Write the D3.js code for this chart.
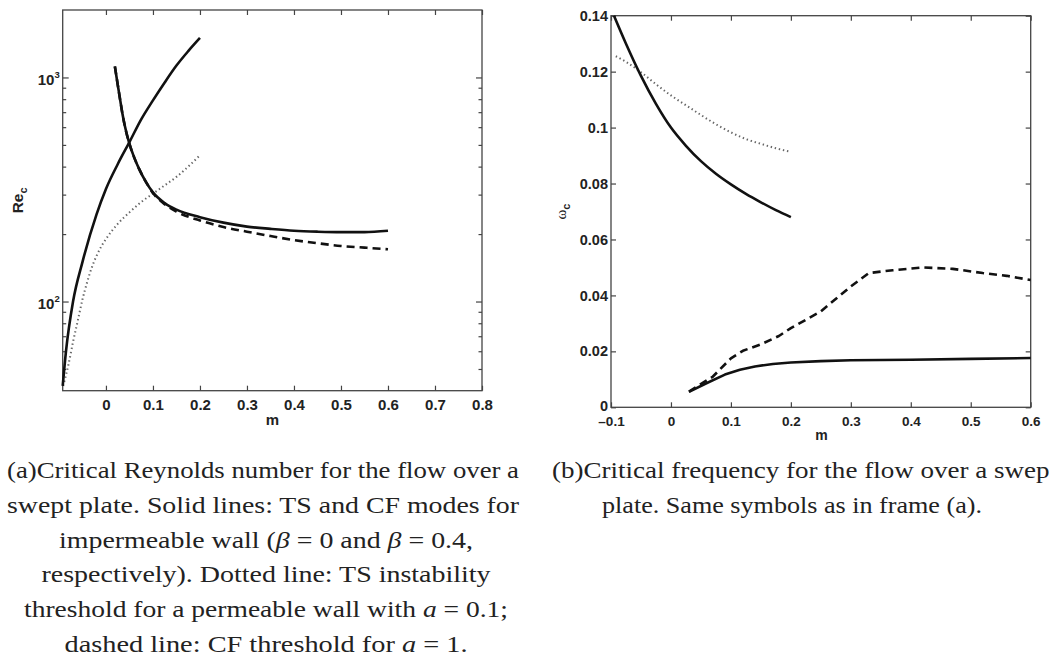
<!DOCTYPE html>
<html><head><meta charset="utf-8">
<script src="https://cdn.jsdelivr.net/npm/d3@7/dist/d3.min.js"></script>
<style>
html,body{margin:0;padding:0;background:#fff;}
svg{display:block;}
.tick text{font-family:"Liberation Sans",Arial,sans-serif;font-weight:bold;fill:#222;}
</style></head>
<body>
<svg id="chart" width="1049" height="664"></svg>
<script>
// ---------- DATA ----------
// Panel (a): critical Reynolds number vs m (log scale)
const tsSolidM   = [-0.092,-0.085,-0.07,-0.05,-0.02,0,0.025,0.05,0.075,0.1,0.125,0.15,0.175,0.2];
const tsSolidRe  = [42,60,100,150,245,318,410,515,650,790,950,1130,1310,1500];
const cfSolidM   = [0.019,0.025,0.03,0.035,0.04,0.05,0.06,0.07,0.085,0.1,0.125,0.15,0.2,0.25,0.3,0.35,0.4,0.45,0.5,0.55,0.6];
const cfSolidRe  = [1120,930,800,690,610,505,440,393,342,307,275,257,238,225,216,211,207,205,204,204,207];
const tsDotM     = [-0.091,-0.08,-0.07,-0.06,-0.05,-0.04,-0.03,-0.02,-0.01,0,0.025,0.05,0.075,0.1,0.125,0.15,0.175,0.2];
const tsDotRe    = [42,52,66,82,102,122,142,160,176,190,222,250,278,303,330,360,400,450];
const cfDashM    = [0.019,0.025,0.03,0.035,0.04,0.05,0.06,0.07,0.085,0.1,0.12,0.15,0.2,0.25,0.3,0.35,0.4,0.45,0.5,0.55,0.6];
const cfDashRe   = [1120,930,800,690,610,505,440,393,342,305,277,252,230,215,205,196,188,182,177,174,171];

// Panel (b): critical frequency vs m
const tsSolidWM  = [-0.095,-0.075,-0.05,-0.025,0,0.025,0.05,0.075,0.1,0.125,0.15,0.175,0.2];
const tsSolidW   = [0.140,0.130,0.1185,0.1085,0.1000,0.0935,0.0880,0.0835,0.0797,0.0763,0.0733,0.0705,0.068];
const tsDotWM    = [-0.092,-0.075,-0.05,-0.025,0,0.025,0.05,0.075,0.1,0.125,0.15,0.175,0.2];
const tsDotW     = [0.1255,0.1235,0.1198,0.1155,0.1115,0.108,0.1045,0.1012,0.0983,0.0959,0.0942,0.0926,0.0913];
const cfSolidWM  = [0.03,0.06,0.09,0.115,0.14,0.17,0.2,0.25,0.3,0.4,0.5,0.6];
const cfSolidW   = [0.0055,0.0087,0.0117,0.0134,0.0146,0.0155,0.016,0.0165,0.0168,0.0170,0.0173,0.0176];
const cfDashWM   = [0.03,0.07,0.1,0.12,0.15,0.18,0.2,0.25,0.3,0.33,0.37,0.42,0.47,0.52,0.56,0.6];
const cfDashW    = [0.0056,0.011,0.0175,0.0202,0.0225,0.0255,0.0283,0.0343,0.0432,0.048,0.049,0.050,0.0495,0.048,0.047,0.0455];

// Tick values
const aXTicks = [0,0.1,0.2,0.3,0.4,0.5,0.6,0.7,0.8];
const aYMajor = [100,1000];
const aYMinor = [50,60,70,80,90,200,300,400,500,600,700,800,900];
const bXTicks = [-0.1,0,0.1,0.2,0.3,0.4,0.5,0.6];
const bYTicks = [0,0.02,0.04,0.06,0.08,0.1,0.12,0.14];

// Captions
const capA = [
  "(a)Critical Reynolds number for the flow over a",
  "swept plate. Solid lines: TS and CF modes for",
  [["impermeable wall (",""],["β","i"],[" = 0 and ",""],["β","i"],[" = 0.4,",""]],
  "respectively). Dotted line: TS instability",
  [["threshold for a permeable wall with ",""],["a","i"],[" = 0.1;",""]],
  [["dashed line: CF threshold for ",""],["a","i"],[" = 1.",""]]
];
const capB = [
  "(b)Critical frequency for the flow over a swept",
  "plate. Same symbols as in frame (a)."
];

// ---------- DRAW ----------
const svg = d3.select("#chart");
const zip = (xs, ys) => xs.map((x,i)=>[x,ys[i]]);

const A = {x0:62.7, x1:482, y0:10, y1:390.7};
const B = {x0:611, x1:1030.7, y0:15.7, y1:407.3};

const xa = d3.scaleLinear().domain([-0.092,0.8]).range([A.x0,A.x1]);
const ya = d3.scaleLog().domain([40,2000]).range([A.y1,A.y0]);
const xb = d3.scaleLinear().domain([-0.1,0.6]).range([B.x0,B.x1]);
const yb = d3.scaleLinear().domain([0,0.14]).range([B.y1,B.y0]);

function styleAxis(g, fs){
  g.select(".domain").remove();
  g.selectAll(".tick line").attr("stroke","#444").attr("stroke-width",1.2);
  g.selectAll(".tick text").attr("font-size",fs);
}

// Panel A axes
const ga = svg.append("g");
ga.append("g").attr("transform",`translate(0,${A.y1})`)
  .call(d3.axisBottom(xa).tickValues(aXTicks).tickSizeInner(-5).tickSizeOuter(0).tickPadding(9)
        .tickFormat(d=> d===0?"0":d3.format(".1f")(d)))
  .call(g=>styleAxis(g,15));
ga.append("g").attr("transform",`translate(0,${A.y0})`)
  .call(d3.axisTop(xa).tickValues(aXTicks).tickSizeInner(-5).tickSizeOuter(0).tickFormat(""))
  .call(g=>styleAxis(g,15));
ga.append("g").attr("transform",`translate(${A.x0},0)`)
  .call(d3.axisLeft(ya).tickValues(aYMajor).tickSizeInner(-6).tickSizeOuter(0).tickPadding(3).tickFormat(()=>"10"))
  .call(g=>styleAxis(g,15))
  .call(g=>g.selectAll(".tick text").attr("dy","0.45em")
     .append("tspan").attr("font-size",9.5).attr("dy","-0.75em").text(d=>Math.round(Math.log10(d))));
ga.append("g").attr("transform",`translate(${A.x0},0)`)
  .call(d3.axisLeft(ya).tickValues(aYMinor).tickSizeInner(-3.5).tickSizeOuter(0).tickFormat(""))
  .call(g=>styleAxis(g,15));
ga.append("g").attr("transform",`translate(${A.x1},0)`)
  .call(d3.axisRight(ya).tickValues(aYMajor).tickSizeInner(-6).tickSizeOuter(0).tickFormat(""))
  .call(g=>styleAxis(g,15));
ga.append("g").attr("transform",`translate(${A.x1},0)`)
  .call(d3.axisRight(ya).tickValues(aYMinor).tickSizeInner(-3.5).tickSizeOuter(0).tickFormat(""))
  .call(g=>styleAxis(g,15));
ga.append("rect").attr("x",A.x0).attr("y",A.y0).attr("width",A.x1-A.x0).attr("height",A.y1-A.y0)
  .attr("fill","none").attr("stroke","#444").attr("stroke-width",1.3);
ga.append("text").attr("x",(A.x0+A.x1)/2).attr("y",425).attr("text-anchor","middle")
  .attr("font-family","Liberation Sans, Arial, sans-serif").attr("font-weight","bold").attr("font-size",15).attr("fill","#222").text("m");
const reLab = ga.append("text").attr("transform",`translate(23,${(A.y0+A.y1)/2}) rotate(-90)`)
  .attr("text-anchor","middle").attr("font-family","Liberation Sans, Arial, sans-serif")
  .attr("font-weight","bold").attr("font-size",15.5).attr("fill","#222");
reLab.append("tspan").text("Re");
reLab.append("tspan").attr("font-size",11).attr("dy",4).text("c");

// Panel B axes
const gb = svg.append("g");
gb.append("g").attr("transform",`translate(0,${B.y1})`)
  .call(d3.axisBottom(xb).tickValues(bXTicks).tickSizeInner(-5).tickSizeOuter(0).tickPadding(9)
        .tickFormat(d=> d===0?"0":(d<0?"\u20130.1":d3.format(".1f")(d))))
  .call(g=>styleAxis(g,13.5));
gb.append("g").attr("transform",`translate(0,${B.y0})`)
  .call(d3.axisTop(xb).tickValues(bXTicks).tickSizeInner(-5).tickSizeOuter(0).tickFormat(""))
  .call(g=>styleAxis(g,13.5));
gb.append("g").attr("transform",`translate(${B.x0},0)`)
  .call(d3.axisLeft(yb).tickValues(bYTicks).tickSizeInner(-5).tickSizeOuter(0).tickPadding(3)
        .tickFormat(d=> d===0?"0":String(+d.toFixed(2))))
  .call(g=>styleAxis(g,14.5))
  .call(g=>g.selectAll(".tick text").filter(d=>d===0).attr("dy","0.2em"));
gb.append("g").attr("transform",`translate(${B.x1},0)`)
  .call(d3.axisRight(yb).tickValues(bYTicks).tickSizeInner(-5).tickSizeOuter(0).tickFormat(""))
  .call(g=>styleAxis(g,14.5));
gb.append("rect").attr("x",B.x0).attr("y",B.y0).attr("width",B.x1-B.x0).attr("height",B.y1-B.y0)
  .attr("fill","none").attr("stroke","#444").attr("stroke-width",1.3);
gb.append("text").attr("x",821.5).attr("y",440).attr("text-anchor","middle")
  .attr("font-family","Liberation Sans, Arial, sans-serif").attr("font-weight","bold").attr("font-size",14).attr("fill","#222").text("m");
const wLab = gb.append("text").attr("transform",`translate(566,${(B.y0+B.y1)/2}) rotate(-90)`)
  .attr("text-anchor","middle").attr("fill","#222");
wLab.append("tspan").attr("font-family","Liberation Serif, serif").attr("font-size",15).text("ω");
wLab.append("tspan").attr("font-family","Liberation Sans, Arial, sans-serif").attr("font-weight","bold").attr("font-size",11).attr("dy",4).text("c");

// Lines
const solid = {stroke:"#111", "stroke-width":2.6, dash:null};
const dashed = {stroke:"#111", "stroke-width":2.6, dash:"8,5"};
const dotted = {stroke:"#666", "stroke-width":2, dash:"1.4,2.8"};
function drawLine(g, data, xs, ys, st, curve){
  g.append("path").datum(data)
    .attr("d", d3.line().x(d=>xs(d[0])).y(d=>ys(d[1])).curve(curve))
    .attr("fill","none").attr("stroke",st.stroke).attr("stroke-width",st["stroke-width"])
    .attr("stroke-linejoin","round").attr("stroke-dasharray",st.dash);
}
drawLine(ga, zip(tsDotM,tsDotRe), xa, ya, dotted, d3.curveMonotoneX);
drawLine(ga, zip(cfDashM,cfDashRe), xa, ya, dashed, d3.curveMonotoneX);
drawLine(ga, zip(tsSolidM,tsSolidRe), xa, ya, solid, d3.curveMonotoneX);
drawLine(ga, zip(cfSolidM,cfSolidRe), xa, ya, solid, d3.curveMonotoneX);

drawLine(gb, zip(tsDotWM,tsDotW), xb, yb, dotted, d3.curveMonotoneX);
drawLine(gb, zip(tsSolidWM,tsSolidW), xb, yb, solid, d3.curveMonotoneX);
drawLine(gb, zip(cfDashWM,cfDashW), xb, yb, dashed, d3.curveLinear);
drawLine(gb, zip(cfSolidWM,cfSolidW), xb, yb, solid, d3.curveLinear);

// Captions
const capFont = "Liberation Serif, Times New Roman, serif";
const capSize = 23;
const baseY = 478, lineH = 34.8;
// measured line widths in the picture (px)
const capAWidths = [512, 512, 414, 449, 484, 403];
const capBWidths = [505, 380];
function addLine(x, y, anchor, content, width){
  const t = svg.append("text").attr("x",x).attr("y",y).attr("text-anchor",anchor)
    .attr("font-family",capFont).attr("font-size",capSize).attr("fill","#222");
  if (typeof content === "string") t.text(content);
  else content.forEach(([s,st])=>{ const sp=t.append("tspan").text(s); if(st==="i") sp.attr("font-style","italic"); });
  if (width) t.attr("textLength",width).attr("lengthAdjust","spacingAndGlyphs");
  return t;
}
capA.forEach((c,i)=>{
  if (i<2) addLine(7, baseY+i*lineH, "start", c, capAWidths[i]);
  else addLine(266, baseY+i*lineH, "middle", c, capAWidths[i]);
});
addLine(552, baseY, "start", capB[0], capBWidths[0]);
addLine(792, baseY+lineH, "middle", capB[1], capBWidths[1]);
</script>
</body></html>
